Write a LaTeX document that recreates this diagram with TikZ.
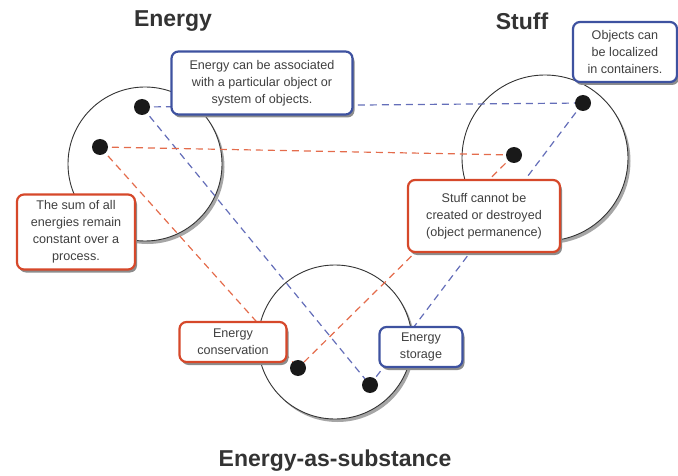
\documentclass[tikz,border=0pt]{standalone}
\usepackage{fontspec}
\setmainfont{Liberation Sans}
\usetikzlibrary{shadows}
\definecolor{boxblue}{RGB}{62,82,160}
\definecolor{boxred}{RGB}{214,72,42}
\definecolor{lineblue}{RGB}{100,110,185}
\definecolor{linered}{RGB}{228,108,76}
\tikzstyle{note} = [draw, line width=2.2pt, rounded corners=7pt, fill=white, align=center, inner sep=2pt, text=black!75, font=\fontsize{12.6}{17}\selectfont, drop shadow={fill=black!45, opacity=1, shadow xshift=2pt, shadow yshift=-3pt}]
\tikzstyle{bluenote} = [note, draw=boxblue]
\tikzstyle{rednote} = [note, draw=boxred]
\tikzstyle{dot} = [circle, fill=black!90, inner sep=0pt, minimum size=16pt]
\tikzstyle{region} = [circle, draw=black!80, fill=white, line width=0.9pt, inner sep=0pt, drop shadow={fill=black!35, opacity=1, shadow xshift=2.5pt, shadow yshift=-3pt}]
\tikzstyle{heading} = [text=black!80, font=\fontsize{23}{26}\selectfont\bfseries]
\tikzstyle{bluelink} = [draw=lineblue, line width=1.2pt, dash pattern=on 7pt off 5pt]
\tikzstyle{redlink} = [draw=linered, line width=1.2pt, dash pattern=on 7pt off 5pt]
\pgfdeclarelayer{bg}
\pgfdeclarelayer{links}
\pgfsetlayers{bg,links,main}

\begin{document}
\begin{tikzpicture}[x=1pt,y=-1pt]
    \useasboundingbox (0,0) rectangle (678,476);

    \begin{pgfonlayer}{bg}
    \node[region, minimum size=154pt] (energy) at (145,164) {};
    \node[region, minimum size=166pt] (stuff) at (545,158) {};
    \node[region, minimum size=154pt] (substance) at (335,342) {};
    \end{pgfonlayer}

    \node[heading] (tenergy) at (173,21) {Energy};
    \node[heading] (tstuff) at (522,21) {Stuff};
    \node[heading] (tsubstance) at (335,461) {Energy-as-substance};

    \node[dot] (e1) at (142,107) {};
    \node[dot] (e2) at (100,147) {};
    \node[dot] (s1) at (583,103) {};
    \node[dot] (s2) at (514,155) {};
    \node[dot] (a1) at (298,368) {};
    \node[dot] (a2) at (370,385) {};

    \begin{pgfonlayer}{links}
    \draw[bluelink] (e1.center) -- (s1.center);
    \draw[bluelink] (e1.center) -- (a2.center);
    \draw[bluelink] (s1.center) -- (a2.center);
    \draw[redlink] (e2.center) -- (s2.center);
    \draw[redlink] (e2.center) -- (a1.center);
    \draw[redlink] (s2.center) -- (a1.center);
    \end{pgfonlayer}

    \node[bluenote, minimum width=181pt, minimum height=63pt] (assoc) at (262,83)
        {Energy can be associated\\with a particular object or\\system of objects.};
    \node[bluenote, minimum width=104pt, minimum height=60pt] (contain) at (625,52)
        {Objects can\\be localized\\in containers.};
    \node[rednote, minimum width=152pt, minimum height=72pt] (perm) at (484,216)
        {Stuff cannot be\\created or destroyed\\(object permanence)};
    \node[rednote, minimum width=118pt, minimum height=75pt] (sum) at (76,232)
        {The sum of all\\energies remain\\constant over a\\process.};
    \node[rednote, minimum width=107pt, minimum height=40pt] (conserv) at (233,342)
        {Energy\\conservation};
    \node[bluenote, minimum width=83pt, minimum height=40pt] (storage) at (421,347)
        {Energy\\storage};
\end{tikzpicture}
\end{document}
